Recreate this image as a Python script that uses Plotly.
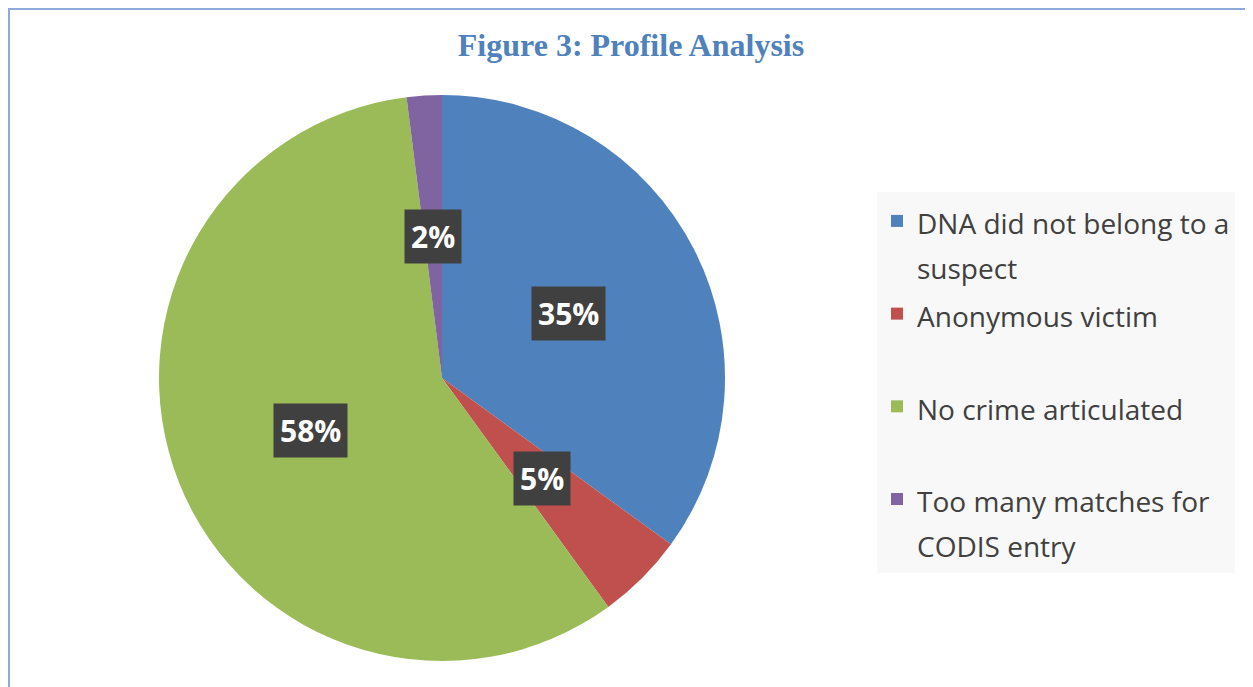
import math
import plotly.graph_objects as go

categories = ["DNA did not belong to a suspect", "Anonymous victim",
              "No crime articulated", "Too many matches for CODIS entry"]
legend_text = ["DNA did not belong to a<br>suspect",
               "Anonymous victim<br>&nbsp;",
               "No crime articulated<br>&nbsp;",
               "Too many matches for<br>CODIS entry"]
values = [35, 5, 58, 2]
colors = ["#4f81bd", "#c0504d", "#9bbb59", "#8064a2"]

# page has an 8px body margin; figure sized to fit the window
OFF = 8
W, H = 1253 - OFF, 687 - OFF


def px_x(p):
    return (p - OFF) / W


def px_y(p):
    return 1 - (p - OFF) / H


dom_x = [px_x(159), px_x(725)]
dom_y = [px_y(661), px_y(95)]

legend_labels = [f'<span style="font-size:28px">{t}</span>' for t in legend_text]

fig = go.Figure()
fig.add_trace(go.Pie(
    labels=legend_labels,
    values=values,
    sort=False,
    direction="clockwise",
    rotation=0,
    marker=dict(colors=colors, line=dict(width=0)),
    textinfo="none",
    hoverinfo="percent",
    domain=dict(x=dom_x, y=dom_y),
))

# data labels placed at half radius on each slice's mid-angle
cx = (dom_x[0] + dom_x[1]) / 2 * W
cy = (1 - (dom_y[0] + dom_y[1]) / 2) * H
R = min((dom_x[1] - dom_x[0]) * W, (dom_y[1] - dom_y[0]) * H) / 2
total = sum(values)
cum = 0
annotations = []
for v in values:
    mid = (cum + v / 2) / total * 2 * math.pi
    cum += v
    ax = cx + 0.5 * R * math.sin(mid)
    ay = cy - 0.5 * R * math.cos(mid)
    annotations.append(dict(
        x=ax / W, y=1 - ay / H, xref="paper", yref="paper",
        text=f"<b>{round(v / total * 100)}%</b>", showarrow=False,
        font=dict(family="Open Sans", size=30, color="white"),
        bgcolor="#404040", borderpad=6,
        xanchor="center", yanchor="middle",
    ))

fig.update_layout(
    width=W, height=H,
    margin=dict(l=0, r=0, t=0, b=0),
    paper_bgcolor="white",
    plot_bgcolor="white",
    title=dict(
        text="<b>Figure 3: Profile Analysis</b>",
        x=px_x(631), xanchor="center", xref="paper",
        y=px_y(45), yanchor="middle", yref="container",
        font=dict(family="Liberation Serif", size=32, color="#4f81bd"),
    ),
    legend=dict(
        x=px_x(877), y=px_y(192), xanchor="left", yanchor="top",
        bgcolor="#f8f8f8", valign="top",
        font=dict(family="Open Sans", size=34.5, color="#404040"),
    ),
    annotations=annotations,
    shapes=[
        dict(type="line", xref="paper", yref="paper",
             x0=0, x1=1, y0=px_y(9), y1=px_y(9),
             line=dict(color="#8eaadb", width=2)),
        dict(type="line", xref="paper", yref="paper",
             x0=px_x(9), x1=px_x(9), y0=0, y1=px_y(9),
             line=dict(color="#8eaadb", width=2)),
    ],
)

fig.write_html("out.html")
